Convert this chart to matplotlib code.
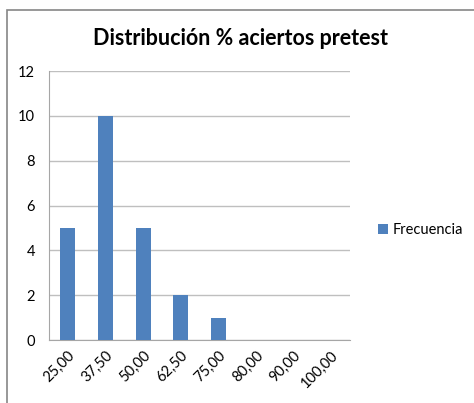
import matplotlib.pyplot as plt
from matplotlib.patches import Rectangle

# frecuencias por porcentaje de aciertos
categorias = ["25,00", "37,50", "50,00", "62,50", "75,00", "80,00", "90,00", "100,00"]
frecuencia = [5, 10, 5, 2, 1, 0, 0, 0]
yticks = [0, 2, 4, 6, 8, 10, 12]

plt.rcParams['font.family'] = ['Lato', 'DejaVu Sans']

fig = plt.figure(figsize=(4.74, 4.03), dpi=100)
ax = fig.add_axes([0.1034, 0.1563, 0.635, 0.6675])

x = range(len(categorias))
ax.bar(x, frecuencia, width=0.4, color="#4F81BD", label="Frecuencia", zorder=3)

ax.set_xlim(-0.5, len(categorias) - 0.5)
ax.set_ylim(0, 12)
ax.set_yticks(yticks)
ax.set_yticklabels([str(v) for v in yticks], fontsize=10.5)
ax.set_xticks(list(x))
ax.set_xticklabels(categorias, rotation=45, ha="right", rotation_mode="anchor", fontsize=10.5)
ax.tick_params(axis="both", length=0, pad=10)
ax.tick_params(axis="x", pad=6)

ax.grid(axis="y", color="#BFBFBF", linewidth=1, zorder=0)
for side in ["top", "right"]:
    ax.spines[side].set_visible(False)
for side in ["left", "bottom"]:
    ax.spines[side].set_color("#A6A6A6")

fig.text(0.507, 0.905, "Distribución % aciertos pretest", ha="center", va="center",
         fontsize=15.5, fontweight="bold")

fig.legend(loc="center left", bbox_to_anchor=(0.77, 0.43), frameon=False,
           fontsize=10.5, handlelength=0.7, handleheight=0.7, handletextpad=0.3)

# marco del gráfico
fig.patches.append(Rectangle((7 / 474, -0.1), 1.2, 1 - 10 / 403 + 0.1,
                             transform=fig.transFigure, fill=False,
                             edgecolor="#868686", linewidth=1.2))

fig.savefig("out.png", dpi=100)
